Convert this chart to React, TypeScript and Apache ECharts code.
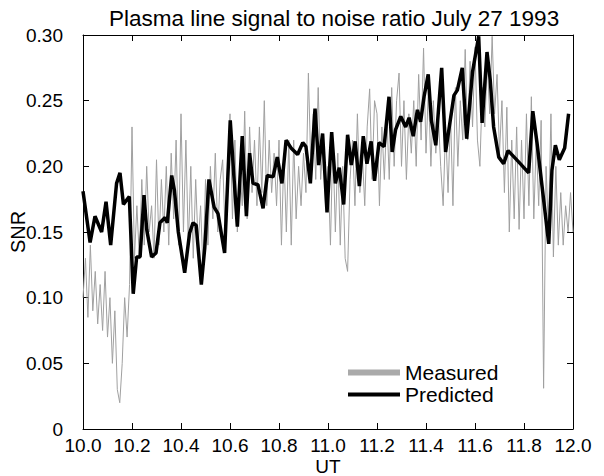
import React, { useEffect, useRef } from "react";
import * as echarts from "echarts";

const measStart = 10.0;
const measStep = 0.01;
const measuredSNR: number[] = [
  0.10, 0.13, 0.085, 0.14, 0.09, 0.12, 0.08, 0.11, 0.075, 0.12,
  0.07, 0.10, 0.05, 0.09, 0.03, 0.02, 0.05, 0.10, 0.07, 0.11,
  0.23, 0.13, 0.17, 0.13, 0.19, 0.14, 0.20, 0.15, 0.17, 0.13,
  0.205, 0.14, 0.19, 0.15, 0.20, 0.14, 0.21, 0.16, 0.22, 0.14,
  0.24, 0.15, 0.22, 0.14, 0.20, 0.13, 0.19, 0.14, 0.17, 0.12,
  0.19, 0.14, 0.20, 0.16, 0.21, 0.15, 0.19, 0.205, 0.15, 0.20,
  0.24, 0.16, 0.22, 0.15, 0.20, 0.17, 0.242, 0.16, 0.23, 0.18,
  0.22, 0.17, 0.23, 0.18, 0.25, 0.17, 0.22, 0.18, 0.21, 0.17,
  0.22, 0.14, 0.21, 0.15, 0.22, 0.14, 0.22, 0.16, 0.20, 0.17,
  0.21, 0.18, 0.271, 0.20, 0.24, 0.19, 0.26, 0.19, 0.22, 0.17,
  0.20, 0.14, 0.22, 0.15, 0.21, 0.14, 0.20, 0.13, 0.12, 0.19,
  0.22, 0.17, 0.24, 0.18, 0.21, 0.17, 0.23, 0.259, 0.19, 0.25,
  0.24, 0.17, 0.23, 0.19, 0.24, 0.19, 0.26, 0.20, 0.25, 0.271,
  0.20, 0.25, 0.19, 0.24, 0.21, 0.25, 0.20, 0.27, 0.22, 0.29,
  0.21, 0.26, 0.20, 0.25, 0.21, 0.24, 0.20, 0.17, 0.23, 0.18,
  0.24, 0.17, 0.26, 0.20, 0.25, 0.22, 0.289, 0.22, 0.28, 0.23,
  0.291, 0.22, 0.20, 0.26, 0.23, 0.28, 0.24, 0.299, 0.24, 0.27,
  0.21, 0.25, 0.18, 0.245, 0.15, 0.22, 0.16, 0.23, 0.152, 0.22,
  0.16, 0.24, 0.17, 0.253, 0.16, 0.22, 0.17, 0.235, 0.031, 0.20,
  0.15, 0.24, 0.131, 0.20, 0.14, 0.18, 0.14, 0.17, 0.15, 0.18,
  0.15,
];

const predictedUT: number[] = [
  10.0, 10.029, 10.049, 10.076, 10.094, 10.113, 10.137, 10.151, 10.165, 10.189,
  10.205, 10.219, 10.233, 10.249, 10.26, 10.28, 10.298, 10.314, 10.335, 10.344,
  10.362, 10.373, 10.389, 10.415, 10.435, 10.449, 10.462, 10.483, 10.497, 10.514,
  10.535, 10.551, 10.578, 10.601, 10.616, 10.63, 10.65, 10.667, 10.68, 10.694,
  10.714, 10.735, 10.752, 10.776, 10.793, 10.812, 10.829, 10.849, 10.876, 10.897,
  10.91, 10.928, 10.947, 10.962, 10.978, 10.996, 11.015, 11.03, 11.046, 11.064,
  11.08, 11.095, 11.111, 11.128, 11.144, 11.159, 11.176, 11.19, 11.208, 11.229,
  11.249, 11.262, 11.276, 11.297, 11.317, 11.331, 11.348, 11.365, 11.378, 11.392,
  11.409, 11.422, 11.44, 11.464, 11.48, 11.514, 11.528, 11.548, 11.566, 11.59,
  11.615, 11.629, 11.649, 11.662, 11.676, 11.697, 11.717, 11.735, 11.78, 11.819,
  11.836, 11.853, 11.901, 11.914, 11.928, 11.944, 11.966, 11.982,
];
const predictedSNR: number[] = [
  0.181, 0.142, 0.162, 0.15, 0.173, 0.14, 0.187, 0.195, 0.171, 0.177,
  0.103, 0.131, 0.131, 0.178, 0.152, 0.131, 0.134, 0.157, 0.161, 0.157,
  0.193, 0.182, 0.15, 0.119, 0.149, 0.157, 0.155, 0.11, 0.138, 0.19,
  0.169, 0.164, 0.134, 0.235, 0.192, 0.154, 0.223, 0.162, 0.21, 0.187,
  0.186, 0.168, 0.193, 0.192, 0.207, 0.187, 0.22, 0.214, 0.209, 0.218,
  0.215, 0.187, 0.244, 0.201, 0.225, 0.165, 0.226, 0.187, 0.199, 0.171,
  0.224, 0.201, 0.219, 0.185, 0.223, 0.202, 0.219, 0.189, 0.218, 0.215,
  0.253, 0.211, 0.228, 0.238, 0.23, 0.237, 0.223, 0.243, 0.234, 0.253,
  0.27, 0.235, 0.216, 0.275, 0.211, 0.254, 0.258, 0.275, 0.221, 0.272,
  0.299, 0.233, 0.287, 0.266, 0.23, 0.207, 0.202, 0.212, 0.203, 0.195,
  0.242, 0.218, 0.141, 0.197, 0.216, 0.205, 0.214, 0.24,
];

const titleText = "Plasma line signal to noise ratio July 27 1993";
const xName = "UT";
const yName = "SNR";

export default function App() {
  const ref = useRef<HTMLDivElement>(null);
  useEffect(() => {
    if (!ref.current) return;
    const chart = echarts.init(ref.current, null, { renderer: "svg" });
    const font = "Liberation Sans, Arial, Helvetica, sans-serif";
    const measuredData = measuredSNR.map((v, i) => [
      +(measStart + i * measStep).toFixed(3),
      v,
    ]);
    const predictedData = predictedSNR.map((v, i) => [predictedUT[i], v]);
    const axisCommon = {
      axisLine: { show: true, onZero: false, lineStyle: { color: "#000", width: 1 } },
      axisTick: { show: true, inside: true, length: 6, lineStyle: { color: "#000" } },
      splitLine: { show: false },
    };
    chart.setOption({
      animation: false,
      backgroundColor: "#fff",
      textStyle: { fontFamily: font },
      title: {
        text: titleText,
        left: 329,
        textAlign: "center",
        top: 2,
        textStyle: { fontFamily: font, fontSize: 22.5, fontWeight: "normal", color: "#000" },
      },
      grid: {
        left: 83,
        right: 31,
        top: 35,
        bottom: 47,
        containLabel: false,
        outerBoundsMode: "none",
      },
      legend: {
        orient: "vertical",
        left: 340,
        top: 357,
        itemWidth: 52,
        itemHeight: 14,
        itemGap: 1,
        textStyle: { fontFamily: font, fontSize: 21, color: "#000", padding: [0, 0, 0, 0] },
        data: [
          {
            name: "Measured",
            itemStyle: { opacity: 0 },
            lineStyle: { color: "#aaaaaa", width: 6 },
          },
          {
            name: "Predicted",
            itemStyle: { opacity: 0 },
            lineStyle: { color: "#000", width: 4 },
          },
        ],
      },
      xAxis: [
        {
          type: "value",
          min: 10,
          max: 12,
          interval: 0.2,
          position: "bottom",
          name: xName,
          nameLocation: "middle",
          nameGap: 28,
          nameMoveOverlap: false,
          nameTextStyle: { fontFamily: font, fontSize: 19, color: "#000" },
          axisLabel: {
            fontFamily: font,
            fontSize: 19,
            color: "#000",
            margin: 7,
            formatter: (v: number) => v.toFixed(1),
          },
          ...axisCommon,
        },
        {
          type: "value",
          min: 10,
          max: 12,
          interval: 0.2,
          position: "top",
          axisLabel: { show: false },
          ...axisCommon,
        },
      ],
      yAxis: [
        {
          type: "value",
          min: 0,
          max: 0.3,
          interval: 0.05,
          position: "left",
          name: yName,
          nameLocation: "middle",
          nameGap: 55,
          nameRotate: 90,
          nameMoveOverlap: false,
          nameTextStyle: { fontFamily: font, fontSize: 20, color: "#000" },
          axisLabel: {
            fontFamily: font,
            fontSize: 19,
            color: "#000",
            margin: 20,
            formatter: (v: number) => (v === 0 ? "0" : v.toFixed(2)),
          },
          ...axisCommon,
        },
        {
          type: "value",
          min: 0,
          max: 0.3,
          interval: 0.05,
          position: "right",
          axisLabel: { show: false },
          ...axisCommon,
        },
      ],
      series: [
        {
          name: "Measured",
          type: "line",
          data: measuredData,
          symbol: "none",
          lineStyle: { color: "#a0a0a0", width: 1 },
          itemStyle: { color: "#a0a0a0" },
          z: 2,
        },
        {
          name: "Predicted",
          type: "line",
          data: predictedData,
          symbol: "none",
          lineStyle: { color: "#000", width: 3.5 },
          itemStyle: { color: "#000" },
          z: 3,
        },
      ],
    });
    return () => chart.dispose();
  }, []);
  return (
    <div
      ref={ref}
      style={{ position: "fixed", left: 0, top: 0, width: 604, height: 476 }}
    />
  );
}
